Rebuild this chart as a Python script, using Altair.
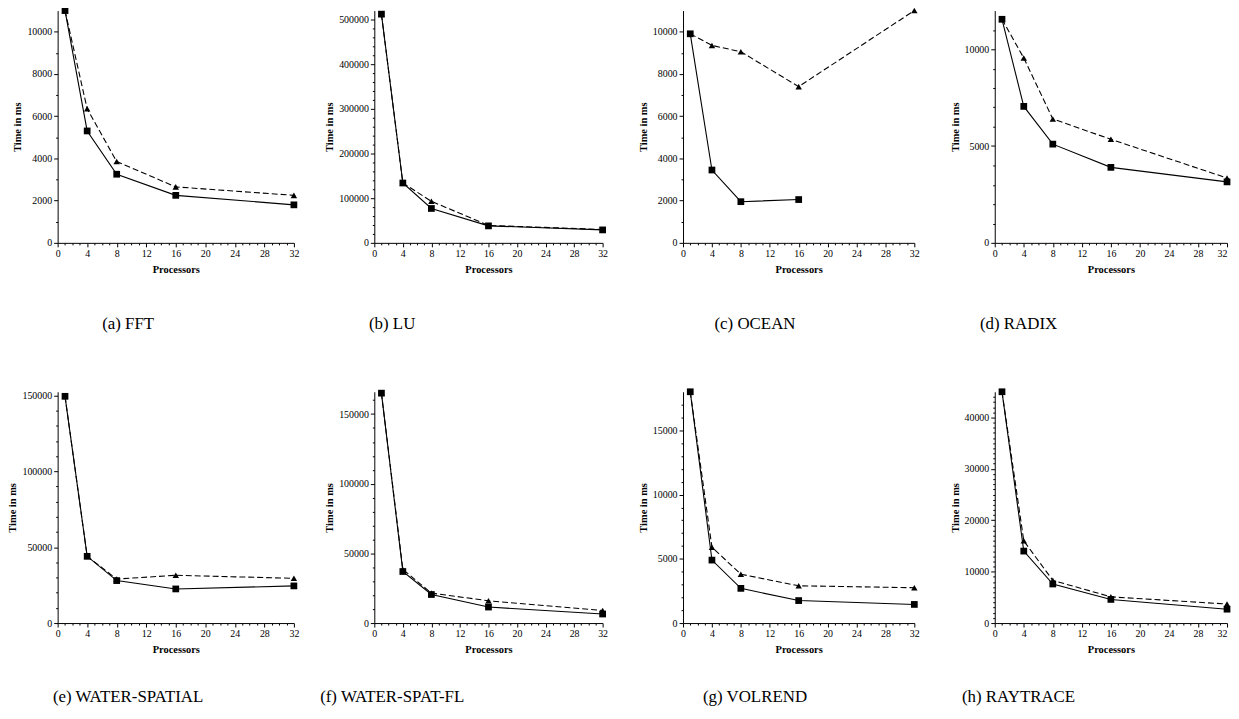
import altair as alt
import pandas as pd

processors = [1, 4, 8, 16, 32]

fft_solid = [11000, 5300, 3250, 2250, 1800]
fft_dashed = [11000, 6350, 3850, 2650, 2250]
lu_solid = [512000, 134000, 77000, 38000, 29000]
lu_dashed = [512000, 134000, 93000, 39000, 30000]
ocean_solid = [9900, 3450, 1950, 2050]          # no 32-processor run
ocean_dashed = [9900, 9350, 9050, 7400, 11000]
radix_solid = [11550, 7050, 5100, 3900, 3150]
radix_dashed = [11550, 9550, 6400, 5350, 3350]
wsp_solid = [149500, 44000, 28000, 22500, 24500]
wsp_dashed = [149500, 44000, 29000, 31500, 29500]
wsf_solid = [165000, 37000, 20500, 11500, 6500]
wsf_dashed = [165000, 38500, 21500, 16000, 9000]
vol_solid = [18000, 4900, 2700, 1750, 1450]
vol_dashed = [18000, 5900, 3800, 2900, 2750]
ray_solid = [45000, 14000, 7600, 4600, 2700]
ray_dashed = [45000, 16000, 8300, 5100, 3700]

captions = ["(a) FFT", "(b) LU", "(c) OCEAN", "(d) RADIX",
            "(e) WATER-SPATIAL", "(f) WATER-SPAT-FL", "(g) VOLREND", "(h) RAYTRACE"]
solids = [fft_solid, lu_solid, ocean_solid, radix_solid,
          wsp_solid, wsf_solid, vol_solid, ray_solid]
dasheds = [fft_dashed, lu_dashed, ocean_dashed, radix_dashed,
           wsp_dashed, wsf_dashed, vol_dashed, ray_dashed]
y_max = [11000, 520000, 11000, 12000, 152500, 166000, 18000, 45000]
y_major = [2000, 100000, 2000, 5000, 50000, 50000, 5000, 10000]
y_minor = [1000, 20000, 1000, 1000, 10000, 10000, 1000, 1000]

col_widths = [238, 230, 233, 234]
col_dx = [-48, -97, -44, -93]
row_heights = [234, 233]
row_offsets = [41, 34]

FONT = "Liberation Serif"


def panel(i):
    rows = []
    for p, v in zip(processors, solids[i]):
        rows.append({"p": p, "t": v, "s": "solid"})
    for p, v in zip(processors, dasheds[i]):
        rows.append({"p": p, "t": v, "s": "dashed"})
    df = pd.DataFrame(rows)
    col = i % 4
    row = i // 4
    last_col = col == 3

    xaxis = alt.Axis(
        title="Processors",
        values=list(range(0, 33)),
        labelExpr="datum.value % 4 === 0 ? datum.label : ''",
        tickSize={"condition": {"test": "datum.value % 4 === 0", "value": 4}, "value": 2},
        labelAlign=({"condition": {"test": "datum.value === 32", "value": "right"}, "value": "center"}
                    if last_col else "center"),
        labelFlush=False,
        labelOverlap=False,
        labelPadding=2,
        titlePadding=6,
        grid=False,
        format="d",
    )
    mj = y_major[i]
    yaxis = alt.Axis(
        title="Time in ms",
        values=list(range(0, y_max[i], y_minor[i])),
        labelExpr=f"datum.value % {mj} === 0 ? datum.label : ''",
        tickSize={"condition": {"test": f"datum.value % {mj} === 0", "value": 4}, "value": 2},
        labelOverlap=False,
        labelPadding=2,
        titlePadding=4,
        grid=False,
        format="d",
    )
    x = alt.X("p:Q", scale=alt.Scale(domain=[0, 32], nice=False), axis=xaxis)
    y = alt.Y("t:Q", scale=alt.Scale(domain=[0, y_max[i]], nice=False), axis=yaxis)

    base = alt.Chart(df)
    dashed = base.transform_filter("datum.s == 'dashed'")
    solid = base.transform_filter("datum.s == 'solid'")
    layers = [
        dashed.mark_line(color="black", strokeWidth=1.1, strokeDash=[6, 3]).encode(x=x, y=y),
        dashed.mark_point(shape="triangle-up", filled=True, color="black", size=42, opacity=1).encode(x=x, y=y),
        solid.mark_line(color="black", strokeWidth=1.1).encode(x=x, y=y),
        solid.mark_point(shape="square", filled=True, color="black", size=46, opacity=1).encode(x=x, y=y),
    ]
    return alt.layer(*layers).properties(
        width=col_widths[col],
        height=row_heights[row],
        title=alt.TitleParams(
            captions[i], orient="bottom", anchor="middle", frame="group",
            dx=col_dx[col], offset=row_offsets[row], font=FONT, fontSize=17,
            fontWeight="normal", color="black",
        ),
    )


chart = alt.concat(
    *[panel(i) for i in range(8)],
    columns=4,
    spacing={"row": 150, "column": 81},
    bounds="flush",
    align="each",
).properties(
    padding={"left": 0, "top": -4, "right": 0, "bottom": 4},
    background="white",
).configure_view(stroke=None).configure_axis(
    domainColor="black", domainWidth=1, tickColor="black", tickWidth=1,
    labelColor="black", labelFont=FONT, labelFontSize=10,
    titleColor="black", titleFont=FONT, titleFontSize=10.5, titleFontWeight="bold",
)

chart.save("out.html", embed_options={"renderer": "svg", "actions": False})
